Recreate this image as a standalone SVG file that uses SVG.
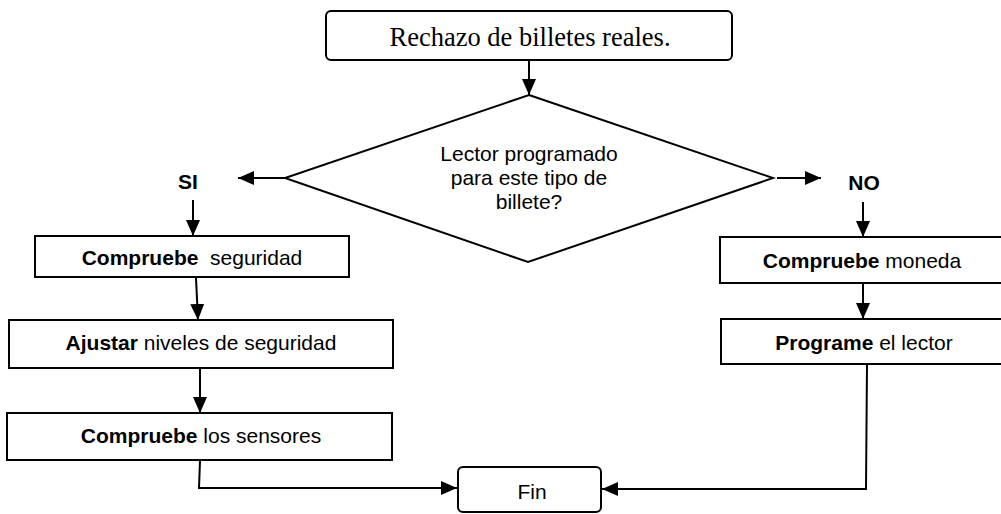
<svg xmlns="http://www.w3.org/2000/svg" width="1001" height="514" viewBox="0 0 1001 514">
<defs>
<marker id="arr" markerUnits="userSpaceOnUse" markerWidth="16" markerHeight="14" refX="16" refY="7" orient="auto">
<path d="M0,0 L16,7 L0,14 z" fill="#000"/>
</marker>
<style>
.box{fill:#fff;stroke:#000;stroke-width:2}
.ln{fill:none;stroke:#000;stroke-width:2}
.t{font-family:"Liberation Sans",Arial,sans-serif;font-size:21px;fill:#000;text-anchor:middle;white-space:pre}
.b{font-weight:bold}
.s{font-family:"Liberation Serif","Times New Roman",serif;font-size:26.5px;fill:#000;text-anchor:middle}
</style>
</defs>
<rect width="1001" height="514" fill="#fff"/>
<g id="connectors">
<line class="ln" x1="529" y1="60" x2="529" y2="95" marker-end="url(#arr)"/>
<line class="ln" x1="285" y1="178" x2="238" y2="178" marker-end="url(#arr)"/>
<line class="ln" x1="777" y1="178" x2="821" y2="178" marker-end="url(#arr)"/>
<line class="ln" x1="193" y1="200" x2="193" y2="236" marker-end="url(#arr)"/>
<line class="ln" x1="863" y1="202" x2="863" y2="237" marker-end="url(#arr)"/>
<line class="ln" x1="196" y1="278" x2="198" y2="320" marker-end="url(#arr)"/>
<line class="ln" x1="200" y1="369" x2="200" y2="413" marker-end="url(#arr)"/>
<line class="ln" x1="863" y1="283" x2="863" y2="319" marker-end="url(#arr)"/>
<polyline class="ln" points="200,461 199,488 457,488" marker-end="url(#arr)"/>
<polyline class="ln" points="867,364 866,489 602,489" marker-end="url(#arr)"/>
</g>
<g id="start">
<rect class="box" x="326" y="11" width="406" height="49" rx="5"/>
<text class="s" x="530" y="46">Rechazo de billetes reales.</text>
</g>
<g id="decision">
<polygon class="box" points="529,95 773,178 528,262 285,178"/>
<text class="t" x="529" y="161">Lector programado</text>
<text class="t" x="529" y="185">para este tipo de</text>
<text class="t" x="529" y="209">billete?</text>
</g>
<g id="label-si"><text class="t b" x="188" y="189">SI</text></g>
<g id="label-no"><text class="t b" x="864" y="190">NO</text></g>
<g id="check-security">
<rect class="box" x="35" y="236" width="314" height="41"/>
<text class="t" x="192" y="265" xml:space="preserve"><tspan class="b">Compruebe</tspan>  seguridad</text>
</g>
<g id="adjust-levels">
<rect class="box" x="9" y="320" width="384" height="48"/>
<text class="t" x="201" y="350"><tspan class="b">Ajustar</tspan> niveles de seguridad</text>
</g>
<g id="check-sensors">
<rect class="box" x="7" y="413" width="385" height="47"/>
<text class="t" x="201" y="443"><tspan class="b">Compruebe</tspan> los sensores</text>
</g>
<g id="check-currency">
<rect class="box" x="720" y="237" width="300" height="46"/>
<text class="t" x="862" y="268"><tspan class="b">Compruebe</tspan> moneda</text>
</g>
<g id="program-reader">
<rect class="box" x="721" y="319" width="300" height="45"/>
<text class="t" x="864" y="350"><tspan class="b">Programe</tspan> el lector</text>
</g>
<g id="end">
<rect class="box" x="458" y="467" width="143" height="45" rx="5"/>
<text class="t" x="532" y="499">Fin</text>
</g>
</svg>
